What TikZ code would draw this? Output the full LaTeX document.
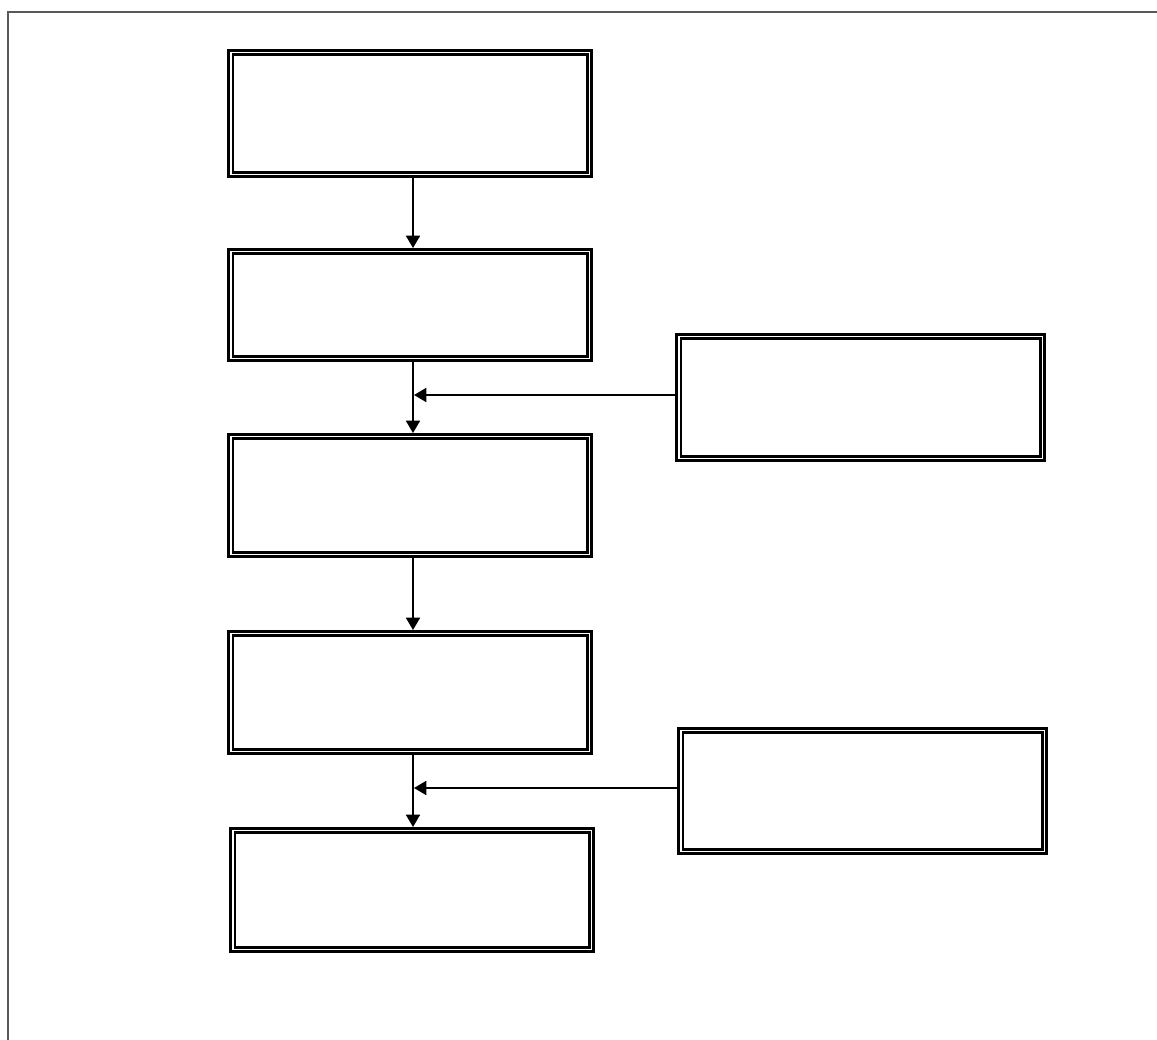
\documentclass[tikz,border=0pt]{standalone}
\usepackage{tikz}
\usetikzlibrary{arrows.meta, calc, positioning}

\begin{document}
\begin{tikzpicture}[x=0.02cm, y=-0.02cm, >={Triangle[length=7pt, width=8pt]},
    box/.style={draw, double, line width=1.4pt, double distance=1.1pt,
        inner sep=0pt, outer sep=2pt, minimum width=7.18cm},
    link/.style={->, line width=0.9pt}]
    \useasboundingbox (0,0) rectangle (1157,1040);
    % 1. Khung ngoai
    \draw[black!65, line width=1.1pt] (8,1040) -- (8,12) -- (1157,12);

    % 2. Cac khoi cot trai
    \node[box, minimum height=2.44cm] (buoc1) at (410,113.5) {};
    \node[box, minimum height=2.14cm] (buoc2) at (410,305) {};
    \node[box, minimum height=2.36cm] (buoc3) at (410,495.5) {};
    \node[box, minimum height=2.36cm] (buoc4) at (410,692.5) {};
    \node[box, minimum height=2.38cm] (buoc5) at (412,890) {};

    % 3. Cac khoi ben phai
    \node[box, minimum width=7.28cm, minimum height=2.44cm] (phu1) at (860.5,397.5) {};
    \node[box, minimum width=7.28cm, minimum height=2.42cm] (phu2) at (862.5,791) {};

    % 4. Mui ten
    \draw[link] ($(buoc1.south)+(3,0)$) -- ($(buoc2.north)+(3,0)$);
    \draw[link] ($(buoc2.south)+(3,0)$) -- ($(buoc3.north)+(3,0)$);
    \draw[link] ($(buoc3.south)+(3,0)$) -- ($(buoc4.north)+(3,0)$);
    \draw[link] ($(buoc4.south)+(3,0)$) -- ($(buoc5.north)+(1,0)$);
    \draw[link] ($(phu1.west)+(0,-2.5)$) -- ($(phu1.west -| buoc2.south)+(4,-2.5)$);
    \draw[link] ($(phu2.west)+(0,-3)$) -- ($(phu2.west -| buoc4.south)+(4,-3)$);
\end{tikzpicture}
\end{document}
